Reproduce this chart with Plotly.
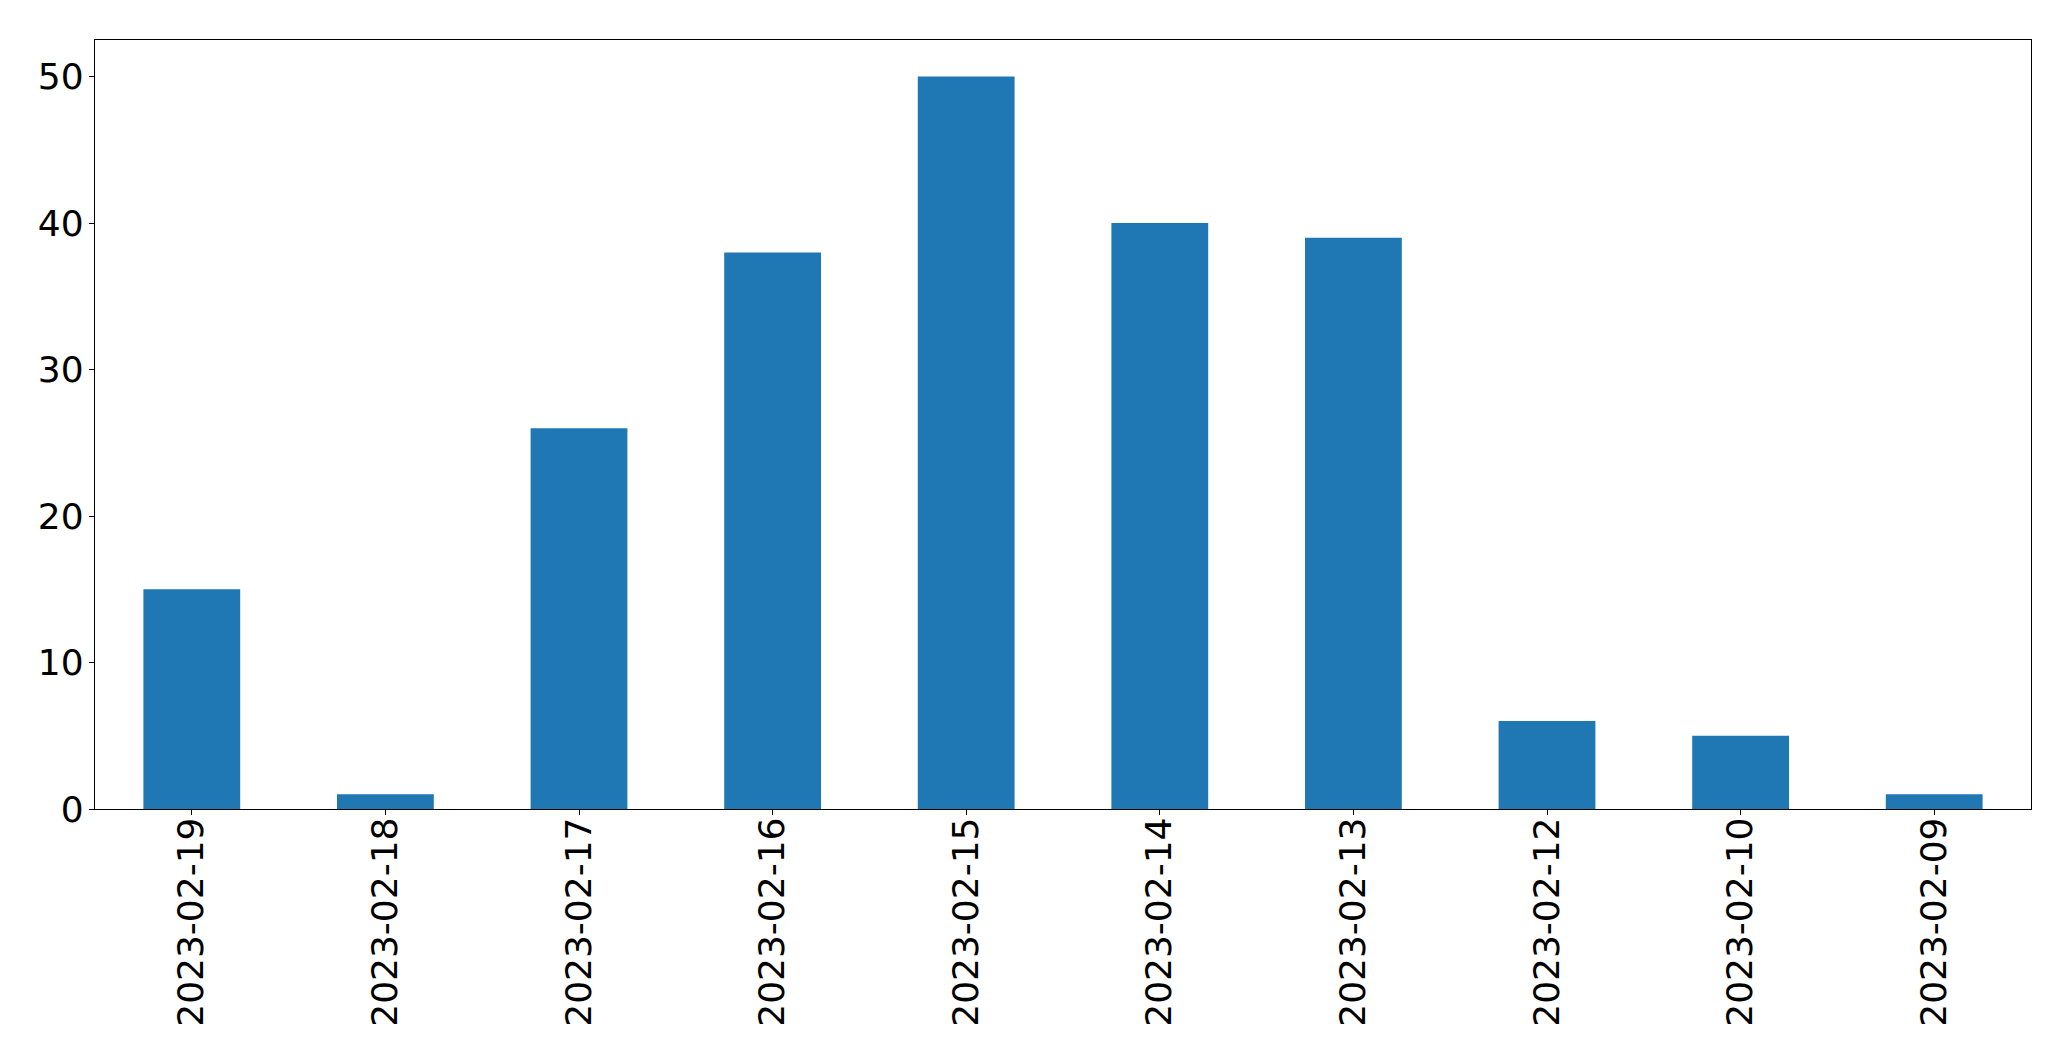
import plotly.graph_objects as go

dates = ['2023-02-19', '2023-02-18', '2023-02-17', '2023-02-16', '2023-02-15',
         '2023-02-14', '2023-02-13', '2023-02-12', '2023-02-10', '2023-02-09']
counts = [15, 1, 26, 38, 50, 40, 39, 6, 5, 1]
y_ticks = [0, 10, 20, 30, 40, 50]

fig = go.Figure(go.Bar(x=dates, y=counts, width=0.5, marker=dict(color='#1f77b4', line=dict(width=0))))

axis_common = dict(showline=True, linecolor='black', linewidth=1.3, mirror=True,
                   ticks='outside', ticklen=5, tickwidth=1.3, tickcolor='black',
                   showgrid=False, zeroline=False,
                   tickfont=dict(family='DejaVu Sans', size=36, color='black'))

fig.update_layout(
    width=2071, height=1061,
    margin=dict(l=87, r=48, t=32, b=260, autoexpand=False),
    plot_bgcolor='white', paper_bgcolor='white',
    showlegend=False,
    xaxis=dict(type='category', range=[-0.5, 9.5], tickangle=-90, ticklabelstandoff=-12, **axis_common),
    yaxis=dict(range=[0, 52.5], tickvals=y_ticks, ticklabelstandoff=-2, **axis_common),
)

fig.write_html("out.html")
